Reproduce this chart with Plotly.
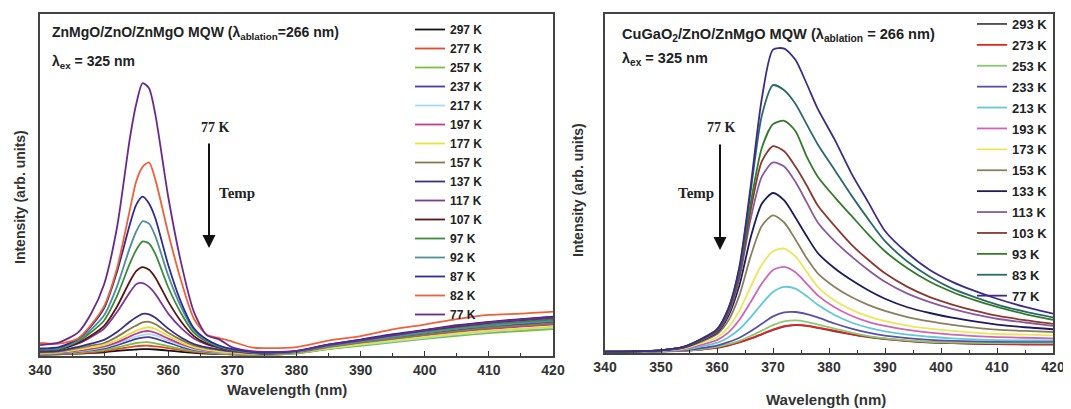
import plotly.graph_objects as go

# ---------------- Left panel: ZnMgO/ZnO/ZnMgO MQW ----------------
WL_L = [340, 343, 346, 348, 350, 352, 354, 355, 356, 357, 358, 360, 362, 364,
        366, 368, 370, 373, 376, 380, 385, 390, 395, 400, 405, 410, 415, 420]

L_NAMES = ["297 K", "277 K", "257 K", "237 K", "217 K", "197 K", "177 K", "157 K",
           "137 K", "117 K", "107 K", "97 K", "92 K", "87 K", "82 K", "77 K"]

L_297 = [0.3, 0.5, 0.7, 0.9, 1.1, 1.5, 1.8, 1.9, 2.0, 2.0, 1.9, 1.6, 1.2, 0.9, 0.7, 0.6, 0.5, 0.4, 0.5, 1.0, 2.5, 3.8, 5.0, 6.3, 7.5, 8.6, 9.5, 10.4]
L_277 = [0.4, 0.6, 0.8, 1.1, 1.4, 2.0, 2.6, 2.9, 3.0, 3.0, 2.8, 2.3, 1.7, 1.2, 0.9, 0.7, 0.5, 0.4, 0.4, 0.8, 2.1, 3.2, 4.2, 5.2, 6.1, 6.9, 7.6, 8.2]
L_257 = [0.5, 0.7, 1.0, 1.4, 1.8, 2.5, 3.4, 3.8, 4.0, 4.0, 3.7, 2.9, 2.1, 1.5, 1.1, 0.8, 0.6, 0.4, 0.4, 0.8, 2.0, 3.0, 4.0, 5.0, 5.9, 6.7, 7.3, 7.9]
L_237 = [0.6, 0.8, 1.3, 1.7, 2.2, 3.2, 4.4, 5.0, 5.4, 5.5, 5.1, 3.9, 2.7, 1.8, 1.3, 1.0, 0.8, 0.5, 0.5, 1.0, 2.6, 3.9, 5.1, 6.3, 7.4, 8.4, 9.2, 9.9]
L_217 = [0.6, 0.9, 1.4, 1.9, 2.5, 3.6, 5.0, 5.7, 6.2, 6.4, 6.0, 4.5, 3.1, 2.0, 1.4, 1.0, 0.8, 0.5, 0.5, 0.9, 2.2, 3.3, 4.3, 5.3, 6.3, 7.1, 7.8, 8.3]
L_197 = [0.7, 1.0, 1.6, 2.1, 2.8, 4.0, 5.7, 6.5, 7.1, 7.3, 6.8, 5.1, 3.5, 2.3, 1.6, 1.2, 0.9, 0.6, 0.6, 1.0, 2.5, 3.8, 4.9, 6.0, 7.0, 7.9, 8.6, 9.2]
L_177 = [0.8, 1.1, 1.9, 2.5, 3.2, 4.6, 6.5, 7.4, 8.1, 8.4, 7.9, 5.9, 4.0, 2.6, 1.8, 1.3, 1.0, 0.6, 0.6, 1.0, 2.3, 3.5, 4.6, 5.6, 6.6, 7.4, 8.0, 8.6]
L_157 = [1.0, 1.3, 2.3, 3.0, 3.8, 5.6, 7.9, 8.9, 9.8, 10.0, 9.3, 6.8, 4.7, 3.1, 2.2, 1.7, 1.3, 0.8, 0.7, 1.1, 2.6, 3.9, 5.0, 6.2, 7.3, 8.2, 8.9, 9.5]
L_137 = [1.2, 1.5, 2.7, 3.6, 4.7, 7.0, 10.0, 11.3, 12.3, 12.2, 11.2, 8.0, 5.4, 3.5, 2.5, 1.9, 1.4, 0.9, 0.8, 1.3, 3.0, 4.4, 5.7, 7.0, 8.2, 9.2, 10.0, 10.7]
L_117 = [1.5, 2.0, 3.7, 5.6, 8.0, 12.8, 18.6, 21.0, 21.3, 20.2, 18.1, 12.4, 8.2, 5.1, 3.4, 2.4, 1.6, 0.9, 0.7, 1.3, 3.1, 4.5, 5.9, 7.3, 8.5, 9.5, 10.4, 11.0]
L_107 = [1.6, 2.0, 3.9, 6.0, 8.8, 14.4, 21.8, 24.8, 26.0, 25.2, 22.9, 15.9, 10.1, 5.8, 3.6, 2.5, 1.7, 1.0, 0.8, 1.4, 3.3, 4.7, 6.1, 7.5, 8.7, 9.8, 10.6, 11.4]
L_97 = [1.8, 2.1, 4.3, 7.0, 10.4, 17.5, 27.0, 31.0, 33.5, 32.9, 29.8, 20.1, 12.5, 6.8, 4.2, 2.7, 1.8, 1.0, 0.8, 1.2, 3.0, 4.4, 5.7, 7.0, 8.1, 9.2, 9.9, 10.6]
L_92 = [2.0, 2.3, 4.7, 7.8, 11.9, 20.3, 31.6, 36.4, 39.4, 38.7, 35.0, 23.5, 14.3, 7.6, 4.5, 2.9, 1.9, 1.1, 0.9, 1.2, 2.8, 4.2, 5.5, 6.8, 7.9, 8.8, 9.6, 10.2]
L_87 = [2.2, 2.6, 5.1, 8.8, 14.0, 24.6, 38.4, 44.2, 46.6, 44.6, 40.2, 26.6, 15.7, 8.1, 4.8, 3.0, 2.0, 1.2, 1.0, 1.5, 3.4, 4.8, 6.4, 7.6, 9.0, 10.0, 10.8, 11.5]
L_82 = [3.8, 3.6, 5.2, 9.2, 14.6, 25.6, 42.6, 51.0, 55.3, 56.6, 51.5, 35.9, 22.0, 10.9, 6.2, 5.2, 4.2, 2.5, 2.3, 2.6, 4.5, 5.8, 7.8, 9.2, 10.8, 12.0, 12.4, 13.0]
L_77 = [3.2, 4.0, 7.0, 12.5, 21.0, 37.5, 63.5, 73.6, 79.8, 78.3, 70.5, 46.5, 27.3, 12.9, 6.1, 4.8, 2.5, 1.4, 1.2, 1.5, 3.2, 4.6, 6.0, 7.5, 8.8, 9.8, 10.6, 11.2]

L_SERIES = [L_297, L_277, L_257, L_237, L_217, L_197, L_177, L_157,
            L_137, L_117, L_107, L_97, L_92, L_87, L_82, L_77]
L_COLORS = ["#111111", "#e8472a", "#78c043", "#4a3c9c", "#a9dcef", "#c23a96",
            "#e6e23a", "#857a4e", "#3a3080", "#7a3a98", "#5a1414", "#3c8a3c",
            "#4f8f98", "#2e2c90", "#f0603a", "#6a2a8c"]

# ---------------- Right panel: CuGaO2/ZnO/ZnMgO MQW ----------------
WL_R = [340, 345, 350, 354, 357, 360, 362, 364, 366, 368, 370, 372, 374, 376,
        378, 381, 384, 387, 390, 394, 398, 402, 406, 410, 415, 420]

R_NAMES = ["293 K", "273 K", "253 K", "233 K", "213 K", "193 K", "173 K",
           "153 K", "133 K", "113 K", "103 K", "93 K", "83 K", "77 K"]

R_293 = [0.3, 0.4, 0.5, 0.6, 1.0, 1.5, 2.2, 3.1, 4.2, 5.5, 6.8, 7.8, 8.2, 8.0, 7.4, 6.4, 5.5, 4.7, 4.1, 3.5, 3.1, 2.9, 2.7, 2.6, 2.5, 2.5]
R_273 = [0.3, 0.4, 0.5, 0.7, 1.0, 1.6, 2.3, 3.2, 4.3, 5.6, 6.9, 7.9, 8.3, 8.1, 7.5, 6.6, 5.6, 4.8, 4.2, 3.6, 3.2, 3.0, 2.8, 2.7, 2.6, 2.6]
R_253 = [0.3, 0.4, 0.5, 0.7, 1.1, 1.8, 2.6, 3.6, 5.0, 6.6, 8.2, 9.3, 9.6, 9.2, 8.4, 7.2, 6.0, 5.0, 4.3, 3.7, 3.3, 3.1, 3.0, 2.9, 2.9, 2.9]
R_233 = [0.3, 0.4, 0.5, 0.8, 1.4, 2.2, 3.2, 4.5, 6.4, 8.6, 10.8, 12.0, 12.1, 11.5, 10.5, 8.7, 7.2, 6.0, 5.1, 4.4, 3.9, 3.6, 3.4, 3.3, 3.3, 3.3]
R_213 = [0.3, 0.4, 0.6, 1.0, 1.9, 3.0, 4.6, 7.0, 10.5, 14.5, 18.0, 19.5, 19.0, 16.8, 14.2, 11.2, 9.0, 7.5, 6.4, 5.4, 4.8, 4.3, 4.0, 3.8, 3.7, 3.7]
R_193 = [0.3, 0.4, 0.6, 1.1, 2.3, 3.8, 6.0, 9.8, 15.0, 20.5, 24.5, 25.4, 23.8, 20.5, 17.0, 13.5, 11.0, 9.2, 8.0, 6.8, 6.0, 5.4, 5.0, 4.7, 4.5, 4.3]
R_173 = [0.3, 0.4, 0.7, 1.3, 2.8, 4.6, 7.5, 12.5, 19.5, 26.0, 30.0, 30.8, 28.5, 24.0, 19.5, 15.5, 12.8, 10.8, 9.4, 8.1, 7.2, 6.5, 6.0, 5.6, 5.4, 5.2]
R_153 = [0.4, 0.5, 0.8, 1.5, 3.2, 5.5, 9.5, 17.0, 28.5, 37.5, 40.6, 38.5, 33.5, 28.0, 23.5, 19.5, 16.5, 14.2, 12.4, 10.6, 9.3, 8.3, 7.5, 6.9, 6.5, 6.2]
R_133 = [0.4, 0.5, 0.8, 1.6, 3.5, 6.0, 10.8, 20.0, 34.0, 44.0, 47.2, 45.0, 40.0, 34.5, 29.5, 25.0, 21.5, 18.5, 16.0, 13.5, 11.8, 10.4, 9.3, 8.4, 7.6, 7.0]
R_113 = [0.4, 0.5, 0.8, 1.7, 3.7, 6.3, 11.5, 22.0, 39.5, 52.0, 56.2, 55.0, 50.5, 44.5, 38.5, 33.0, 28.5, 24.5, 21.0, 17.5, 15.0, 13.0, 11.4, 10.1, 9.0, 8.0]
R_103 = [0.4, 0.5, 0.8, 1.7, 3.8, 6.5, 12.0, 23.0, 42.0, 56.5, 61.0, 59.5, 55.0, 49.5, 43.5, 37.5, 32.0, 27.5, 23.5, 19.5, 16.5, 14.3, 12.5, 11.0, 9.7, 8.6]
R_93 = [0.4, 0.5, 0.8, 1.8, 3.9, 6.8, 12.5, 24.0, 44.0, 60.5, 67.5, 68.5, 65.5, 58.0, 52.0, 46.0, 40.5, 35.0, 30.0, 25.0, 21.0, 18.0, 15.6, 13.6, 11.5, 9.8]
R_83 = [0.4, 0.5, 0.8, 1.8, 4.0, 7.0, 13.0, 25.0, 47.5, 70.0, 79.0, 77.5, 73.5, 67.5, 61.5, 54.0, 46.5, 39.5, 33.0, 27.0, 22.5, 19.0, 16.5, 14.3, 12.2, 10.5]
R_77 = [0.4, 0.5, 0.8, 1.8, 4.0, 7.0, 13.0, 25.5, 49.0, 75.0, 89.5, 89.8, 86.5, 79.5, 72.0, 63.0, 53.0, 44.5, 36.0, 29.5, 24.5, 21.0, 18.3, 16.0, 13.6, 11.6]

R_SERIES = [R_293, R_273, R_253, R_233, R_213, R_193, R_173,
            R_153, R_133, R_113, R_103, R_93, R_83, R_77]
R_COLORS = ["#4a4a4a", "#e02424", "#8cc874", "#5a50aa", "#62c8d8", "#d264b4",
            "#ece65a", "#8a8060", "#1c1c5c", "#8a5a9c", "#8a3a30", "#347a2a",
            "#2c6a6a", "#3c2c8a"]

X_TICKS = [340, 350, 360, 370, 380, 390, 400, 410, 420]

FONT = "Arial, Liberation Sans, sans-serif"
SERIF = "Times New Roman, Liberation Serif, serif"

fig = go.Figure()

for name, ys, col in zip(L_NAMES, L_SERIES, L_COLORS):
    fig.add_trace(go.Scatter(x=WL_L, y=ys, name=name, mode="lines",
                             line=dict(color=col, width=1.8, shape="spline", smoothing=0.7),
                             xaxis="x", yaxis="y", legend="legend",
                             legendgroup="L" + name))

for name, ys, col in zip(R_NAMES, R_SERIES, R_COLORS):
    fig.add_trace(go.Scatter(x=WL_R, y=ys, name=name, mode="lines",
                             line=dict(color=col, width=1.8, shape="spline", smoothing=0.7),
                             xaxis="x2", yaxis="y2", legend="legend2",
                             legendgroup="R" + name))

# page is 1071x409; the html body adds an 8px margin at top/left
PAGE_W, PAGE_H, OFF = 1071, 409, 8
W, H = PAGE_W - OFF, PAGE_H - OFF


def px_x(p):
    return (p - OFF) / W


def px_y(p):
    return 1 - (p - OFF) / H


xaxis_common = dict(
    range=[340, 420], tickvals=X_TICKS, ticks="inside", ticklen=5, tickwidth=1.3,
    tickcolor="#333", showline=True, linecolor="#444", linewidth=1.6, mirror=True,
    showgrid=False, zeroline=False,
    tickfont=dict(family=FONT, size=14, color="#333", weight="bold"),
    minor=dict(dtick=5, ticks="inside", ticklen=3, tickwidth=1.2, tickcolor="#333",
               showgrid=False),
)
yaxis_common = dict(range=[0, 100], showticklabels=False, ticks="", showgrid=False,
                    zeroline=False, showline=True, linecolor="#444", linewidth=1.6,
                    mirror=True)

fig.update_layout(
    width=W, height=H, autosize=False,
    margin=dict(l=0, r=0, t=0, b=0, autoexpand=False),
    paper_bgcolor="white", plot_bgcolor="white",
    xaxis=dict(domain=[px_x(40), px_x(553)], anchor="y", **xaxis_common),
    yaxis=dict(domain=[px_y(356), px_y(14)], anchor="x", **yaxis_common),
    xaxis2=dict(domain=[px_x(605), px_x(1053)], anchor="y2", **xaxis_common),
    yaxis2=dict(domain=[px_y(353), px_y(14)], anchor="x2", **yaxis_common),
    legend=dict(x=px_x(410), y=px_y(15), xanchor="left", yanchor="top",
                bgcolor="rgba(0,0,0,0)", borderwidth=0, tracegroupgap=0,
                font=dict(family=FONT, size=12, color="#222", weight="bold")),
    legend2=dict(x=px_x(972), y=px_y(9), xanchor="left", yanchor="top",
                 bgcolor="rgba(0,0,0,0)", borderwidth=0, tracegroupgap=1,
                 font=dict(family=FONT, size=13, color="#222", weight="bold")),
    showlegend=True,
)


def text_ann(text, x, y, size, family=FONT, xanchor="center", angle=0, color="#222"):
    return dict(text=text, x=px_x(x), y=px_y(y), xref="paper", yref="paper",
                xanchor=xanchor, yanchor="middle", showarrow=False, textangle=angle,
                font=dict(family=family, size=size, color=color))


ann = [
    text_ann("<b>Wavelength (nm)</b>", 287, 389, 15, color="#333"),
    text_ann("<b>Wavelength (nm)</b>", 826, 399, 15, color="#333"),
    text_ann("<b>Intensity (arb. units)</b>", 20, 197, 14, angle=-90, color="#333"),
    text_ann("<b>Intensity (arb. units)</b>", 578, 190, 14, angle=-90, color="#333"),
    text_ann("<b>ZnMgO/ZnO/ZnMgO MQW (λ<sub>ablation</sub>=266 nm)</b>", 50, 33, 14, xanchor="left"),
    text_ann("<b>λ<sub>ex</sub> = 325 nm</b>", 50, 62, 14, xanchor="left"),
    text_ann("<b>CuGaO<sub>2</sub>/ZnO/ZnMgO MQW (λ<sub>ablation</sub> = 266 nm)</b>", 620, 35, 14.6,
             xanchor="left"),
    text_ann("<b>λ<sub>ex</sub> = 325 nm</b>", 620, 59, 14.5, xanchor="left"),
]
# 77 K / Temp arrows
for (xa, xt, ytop, ybot, tx, tanchor) in [(209, 215, 142, 248, 217, "left"),
                                         (720, 721, 143, 250, 716, "right")]:
    ann.append(text_ann("<b>77 K</b>", xt, 127, 14, family=SERIF))
    ann.append(text_ann("<b>Temp</b>", tx, 193, 15, family=SERIF, xanchor=tanchor))
    ann.append(dict(text="", x=px_x(xa), y=px_y(ybot), xref="paper", yref="paper",
                    showarrow=True, ax=0, ay=-(ybot - ytop), arrowhead=2, arrowsize=1.3,
                    arrowwidth=2, arrowcolor="#111"))
fig.update_layout(annotations=ann)

fig.write_html("out.html")
